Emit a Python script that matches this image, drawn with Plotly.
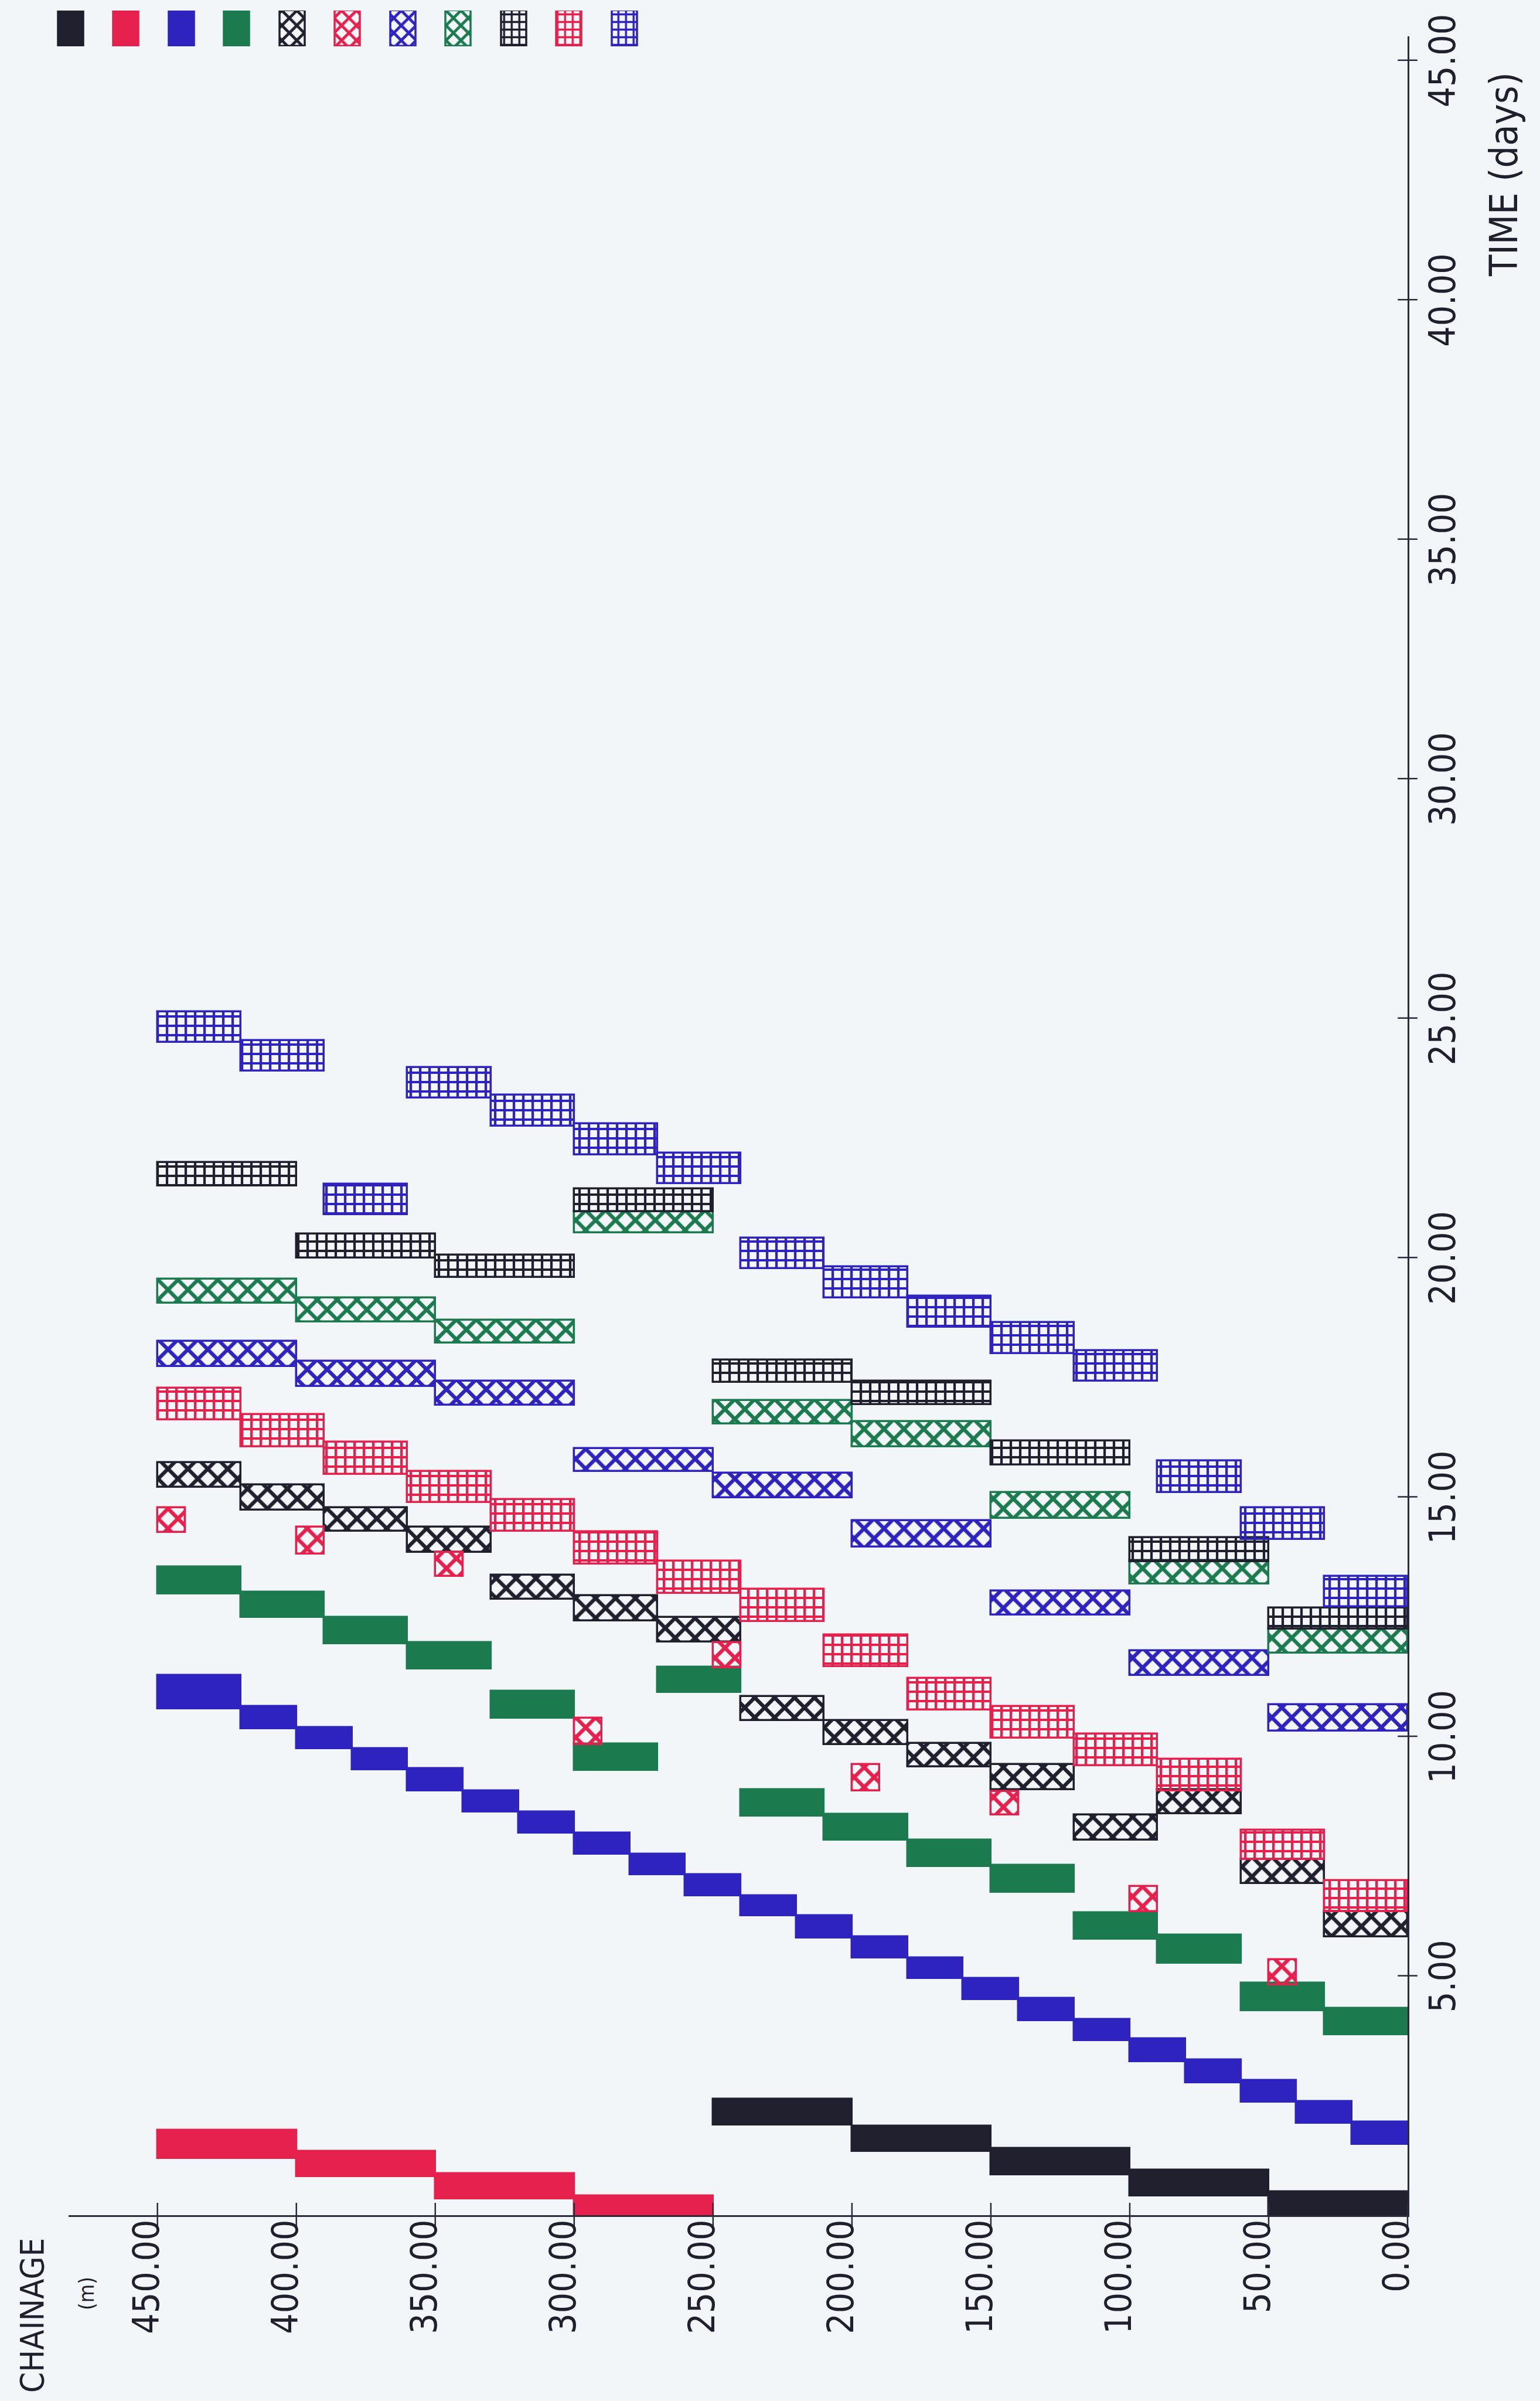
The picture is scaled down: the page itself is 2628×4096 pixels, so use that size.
import plotly.graph_objects as go

# Work items per activity: (chainage from [m], chainage to [m], start [days], finish [days])
BLACK_SOLID = [(0, 50, 0.00, 0.49), (50, 100, 0.40, 0.94), (100, 150, 0.84, 1.40),
               (150, 200, 1.34, 1.86), (200, 250, 1.89, 2.42)]
RED_SOLID = [(250, 300, 0.00, 0.40), (300, 350, 0.34, 0.87), (350, 400, 0.81, 1.34),
             (400, 450, 1.19, 1.78)]
BLUE_SOLID = [(0, 20, 1.48, 1.95), (20, 40, 1.92, 2.37), (40, 60, 2.36, 2.82),
              (60, 80, 2.77, 3.24), (80, 100, 3.21, 3.68), (100, 120, 3.65, 4.09),
              (120, 140, 4.06, 4.53), (140, 160, 4.50, 4.94), (160, 180, 4.94, 5.38),
              (180, 200, 5.38, 5.82), (200, 220, 5.79, 6.26), (220, 240, 6.26, 6.67),
              (240, 260, 6.67, 7.11), (260, 280, 7.11, 7.54), (280, 300, 7.54, 7.98),
              (300, 320, 7.98, 8.42), (320, 340, 8.42, 8.86), (340, 360, 8.86, 9.33),
              (360, 380, 9.30, 9.75), (380, 400, 9.74, 10.19), (400, 420, 10.16, 10.63),
              (420, 450, 10.58, 11.27)]
GREEN_SOLID = [(0, 30, 3.77, 4.32), (30, 60, 4.27, 4.85), (60, 90, 5.26, 5.85),
               (90, 120, 5.76, 6.32), (120, 150, 6.75, 7.31), (150, 180, 7.28, 7.84),
               (180, 210, 7.84, 8.37), (210, 240, 8.34, 8.89), (240, 270, 10.92, 11.44),
               (270, 300, 9.29, 9.84), (300, 330, 10.38, 10.94), (330, 360, 11.41, 11.96),
               (360, 390, 11.93, 12.49), (390, 420, 12.49, 13.01), (420, 450, 12.98, 13.54)]
BLACK_CROSS = [(0, 30, 5.82, 6.34), (30, 60, 6.93, 7.43), (60, 90, 8.39, 8.89),
               (90, 120, 7.84, 8.36), (120, 150, 8.89, 9.41), (150, 180, 9.36, 9.86),
               (180, 210, 9.83, 10.33), (210, 240, 10.33, 10.83), (240, 270, 11.97, 12.49),
               (270, 300, 12.41, 12.94), (300, 330, 12.87, 13.37), (330, 360, 13.84, 14.37),
               (360, 390, 14.28, 14.78), (390, 420, 14.73, 15.25), (420, 450, 15.20, 15.72)]
RED_CROSS = [(40, 50, 4.81, 5.34), (90, 100, 6.34, 6.87), (140, 150, 8.36, 8.85),
             (190, 200, 8.86, 9.41), (240, 250, 11.43, 11.96), (290, 300, 9.83, 10.38),
             (340, 350, 13.34, 13.84), (390, 400, 13.81, 14.37), (440, 450, 14.26, 14.78)]
BLUE_CROSS = [(0, 50, 10.11, 10.66), (50, 100, 11.27, 11.79), (100, 150, 12.54, 13.04),
              (150, 200, 13.95, 14.51), (200, 250, 14.98, 15.50), (250, 300, 15.54, 16.01),
              (300, 350, 16.92, 17.42), (350, 400, 17.31, 17.83), (400, 450, 17.72, 18.25)]
GREEN_CROSS = [(0, 50, 11.74, 12.24), (50, 100, 13.18, 13.67), (100, 150, 14.56, 15.09),
               (150, 200, 16.05, 16.58), (200, 250, 16.52, 17.02), (250, 300, 20.52, 20.96),
               (300, 350, 18.22, 18.69), (350, 400, 18.66, 19.16), (400, 450, 19.05, 19.55)]
BLACK_GRID = [(0, 50, 12.24, 12.68), (50, 100, 13.65, 14.15), (100, 150, 15.67, 16.17),
              (150, 200, 16.93, 17.42), (200, 250, 17.39, 17.86), (250, 300, 20.96, 21.43),
              (300, 350, 19.58, 20.05), (350, 400, 19.99, 20.49), (400, 450, 21.49, 21.98)]
RED_GRID = [(0, 30, 6.34, 6.99), (30, 60, 7.43, 8.04), (60, 90, 8.86, 9.52),
            (90, 120, 9.39, 10.05), (120, 150, 9.97, 10.63), (150, 180, 10.55, 11.21),
            (180, 210, 11.46, 12.12), (210, 240, 12.40, 13.07), (240, 270, 12.99, 13.66),
            (270, 300, 13.60, 14.27), (300, 330, 14.28, 14.95), (330, 360, 14.89, 15.53),
            (360, 390, 15.47, 16.14), (390, 420, 16.05, 16.72), (420, 450, 16.61, 17.27)]
BLUE_GRID = [(0, 30, 12.71, 13.34), (30, 60, 14.12, 14.78), (60, 90, 15.09, 15.75),
             (90, 120, 17.42, 18.06), (120, 150, 18.00, 18.64), (150, 180, 18.55, 19.19),
             (180, 210, 19.16, 19.80), (210, 240, 19.77, 20.41), (240, 270, 21.54, 22.18),
             (270, 300, 22.15, 22.79), (300, 330, 22.75, 23.39), (330, 360, 23.33, 23.97),
             (360, 390, 20.90, 21.53), (390, 420, 23.89, 24.53), (420, 450, 24.49, 25.13)]

CHAINAGE_TICKS = [0, 50, 100, 150, 200, 250, 300, 350, 400, 450]
CHAINAGE_LABELS = ["0.00", "50.00", "100.00", "150.00", "200.00", "250.00",
                   "300.00", "350.00", "400.00", "450.00"]
TIME_TICKS = [5, 10, 15, 20, 25, 30, 35, 40, 45]
TIME_LABELS = ["5.00", "10.00", "15.00", "20.00", "25.00", "30.00", "35.00", "40.00", "45.00"]

# Pen colours and fill styles
INK = "#1f1f2d"
RED = "#e5204c"
BLUE = "#2e23be"
GREEN = "#1b7a4e"
AXIS = "#2a2a3a"
PAPER = "#f3f6f9"
FONT = "DejaVu Sans Condensed, DejaVu Sans, sans-serif"

SERIES = [
    ("activity 1", BLACK_SOLID, INK, ""),
    ("activity 2", RED_SOLID, RED, ""),
    ("activity 3", BLUE_SOLID, BLUE, ""),
    ("activity 4", GREEN_SOLID, GREEN, ""),
    ("activity 5", BLACK_CROSS, INK, "x"),
    ("activity 6", RED_CROSS, RED, "x"),
    ("activity 7", BLUE_CROSS, BLUE, "x"),
    ("activity 8", GREEN_CROSS, GREEN, "x"),
    ("activity 9", BLACK_GRID, INK, "+"),
    ("activity 10", RED_GRID, RED, "+"),
    ("activity 11", BLUE_GRID, BLUE, "+"),
]
PATTERN_SIZE = {"x": 24, "+": 16}
KEY_PATTERN_SIZE = {"x": 18, "+": 13}


def marker_for(color, shape, sizes):
    m = dict(color=color, line=dict(color=color, width=3.5))
    if shape:
        m["pattern"] = dict(shape=shape, fgcolor=color, bgcolor="rgba(0,0,0,0)",
                            size=sizes[shape], solidity=0.46, fillmode="replace")
    return m


fig = go.Figure()

for name, items, color, shape in SERIES:
    c0 = [r[0] for r in items]
    c1 = [r[1] for r in items]
    t0 = [r[2] for r in items]
    t1 = [r[3] for r in items]
    fig.add_trace(go.Bar(
        name=name,
        x=[(a + b) / 2 for a, b in zip(c0, c1)],
        width=[b - a for a, b in zip(c0, c1)],
        base=t0,
        y=[e - s for s, e in zip(t0, t1)],
        marker=marker_for(color, shape, PATTERN_SIZE),
        showlegend=False,
        hoverinfo="skip",
    ))

# Key swatches across the top
for i, (name, items, color, shape) in enumerate(SERIES):
    fig.add_trace(go.Bar(
        x=[i], y=[1], base=[0], width=[0.45],
        xaxis="x2", yaxis="y2",
        marker=marker_for(color, shape, KEY_PATTERN_SIZE),
        showlegend=False, hoverinfo="skip",
    ))

# Cross ticks on both axes
fig.add_trace(go.Scatter(
    x=[0] * len(TIME_TICKS), y=TIME_TICKS, mode="markers",
    marker=dict(symbol="line-ew", size=24, line=dict(color=AXIS, width=2.5)),
    cliponaxis=False, showlegend=False, hoverinfo="skip",
))
fig.add_trace(go.Scatter(
    x=CHAINAGE_TICKS, y=[0] * len(CHAINAGE_TICKS), mode="markers",
    marker=dict(symbol="line-ns", size=30, line=dict(color=AXIS, width=2.5)),
    cliponaxis=False, showlegend=False, hoverinfo="skip",
))

W, H = 2628, 4096
fig.update_layout(
    width=W, height=H,
    margin=dict(l=0, r=0, t=0, b=0, pad=0),
    paper_bgcolor=PAPER, plot_bgcolor=PAPER,
    barmode="overlay",
    bargap=0,
    showlegend=False,
    font=dict(family=FONT, color=INK),
    xaxis=dict(
        range=[482, 0], domain=[117 / W, 2402 / W], automargin=False,
        showgrid=False, zeroline=False,
        showline=True, linecolor=AXIS, linewidth=2.5,
        tickmode="array", tickvals=CHAINAGE_TICKS, ticktext=CHAINAGE_LABELS,
        tickangle=-90, ticks="", ticklabelstandoff=-20, ticklabelshift=18,
        tickfont=dict(family=FONT, size=62, color=INK),
        fixedrange=True,
    ),
    yaxis=dict(
        range=[0, 45.5], domain=[1 - 3779 / H, 1 - 62 / H], automargin=False,
        side="right", anchor="x",
        showgrid=False, zeroline=False,
        showline=True, linecolor=AXIS, linewidth=2.5,
        tickmode="array", tickvals=TIME_TICKS, ticktext=TIME_LABELS,
        tickangle=-90, ticks="", ticklabelstandoff=4, ticklabelshift=10,
        tickfont=dict(family=FONT, size=62, color=INK),
        fixedrange=True,
    ),
    xaxis2=dict(range=[-0.5, 10.5], domain=[73.75 / W, 1113.25 / W], visible=False,
                anchor="y2", fixedrange=True, automargin=False),
    yaxis2=dict(range=[0, 1], domain=[1 - 79 / H, 1 - 18 / H], visible=False,
                anchor="x2", fixedrange=True, automargin=False),
    annotations=[
        dict(text="TIME (days)", x=2566 / W, y=1 - 298 / H, xref="paper", yref="paper",
             textangle=-90, showarrow=False, xanchor="center", yanchor="middle",
             font=dict(family=FONT, size=66, color=INK)),
        dict(text="CHAINAGE", x=54 / W, y=1 - 3950 / H, xref="paper", yref="paper",
             textangle=-90, showarrow=False, xanchor="center", yanchor="middle",
             font=dict(family=FONT, size=56, color=INK)),
        dict(text="(m)", x=147 / W, y=1 - 3913 / H, xref="paper", yref="paper",
             textangle=-90, showarrow=False, xanchor="center", yanchor="middle",
             font=dict(family=FONT, size=36, color=INK)),
    ],
)

fig.write_html("out.html")
